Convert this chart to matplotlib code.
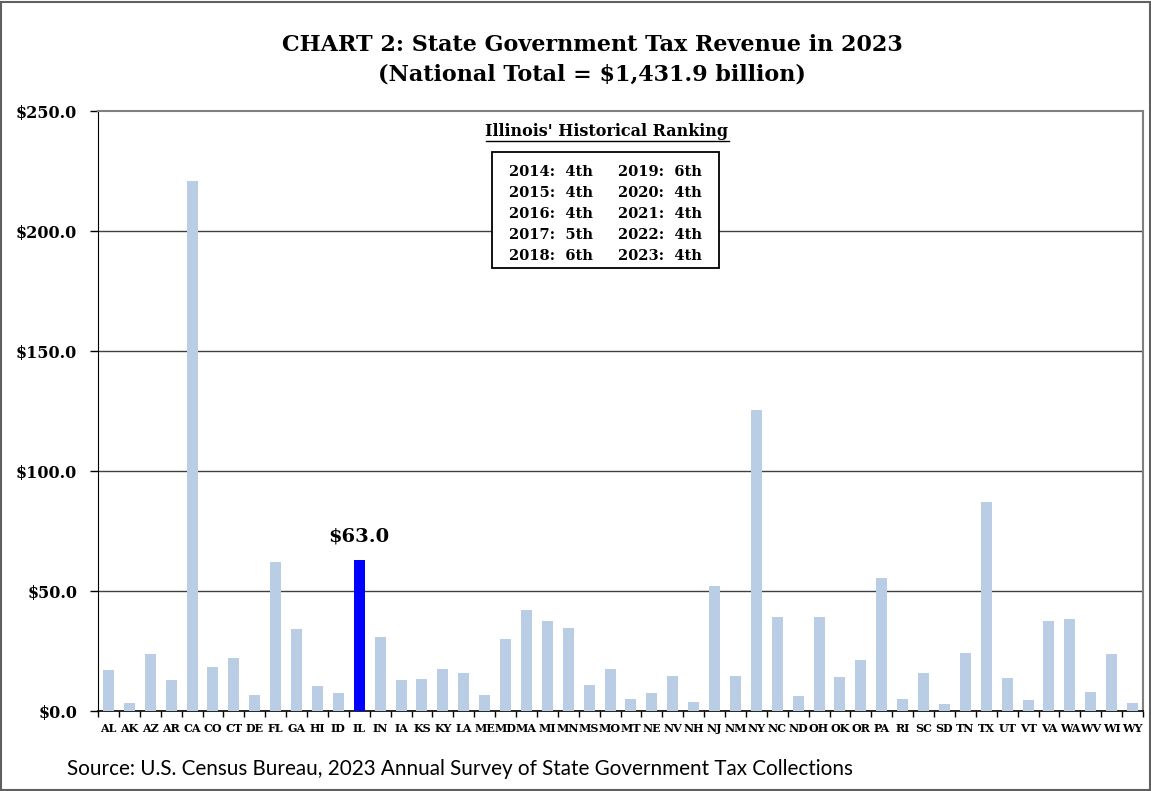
import matplotlib
matplotlib.use("Agg")
import matplotlib.pyplot as plt
from matplotlib.patches import Rectangle
from matplotlib.lines import Line2D

states = ["AL","AK","AZ","AR","CA","CO","CT","DE","FL","GA","HI","ID","IL","IN","IA","KS","KY",
          "LA","ME","MD","MA","MI","MN","MS","MO","MT","NE","NV","NH","NJ","NM","NY","NC","ND",
          "OH","OK","OR","PA","RI","SC","SD","TN","TX","UT","VT","VA","WA","WV","WI","WY"]
revenue = [17.0, 3.4, 23.6, 12.9, 220.8, 18.3, 22.2, 6.7, 62.1, 34.0, 10.4, 7.7, 63.0, 30.7, 13.1, 13.2, 17.4,
           15.7, 6.7, 30.0, 41.9, 37.5, 34.7, 10.7, 17.6, 5.0, 7.5, 14.4, 3.7, 51.9, 14.6, 125.4, 39.2, 6.3,
           39.0, 14.2, 21.1, 55.4, 5.0, 15.8, 2.9, 24.0, 87.1, 13.8, 4.6, 37.4, 38.3, 7.8, 23.9, 3.5]
highlight = "IL"
yticks = [0, 50, 100, 150, 200, 250]
rank_left = ["2014:  4th", "2015:  4th", "2016:  4th", "2017:  5th", "2018:  6th"]
rank_right = ["2019:  6th", "2020:  4th", "2021:  4th", "2022:  4th", "2023:  4th"]

serif = ["DejaVu Serif"]
fig = plt.figure(figsize=(11.51, 7.91), dpi=100)
ax = fig.add_axes([98/1151, 1-711/791, (1143-98)/1151, 600/791])

x = list(range(len(states)))
colors = ["#0000FF" if s == highlight else "#B9CDE5" for s in states]
ax.bar(x, revenue, width=0.53, color=colors, zorder=3)

ax.set_xlim(-0.5, len(states)-0.5)
ax.set_ylim(0, 250)
ax.set_yticks(yticks)
ax.set_yticklabels([f"${v:.1f}" for v in yticks], fontfamily=serif, fontweight="bold", fontsize=11.5)
ax.set_xticks(x)
ax.set_xticklabels(states, fontfamily=serif, fontweight="bold", fontsize=8)
ax.set_xticks([i - 0.5 for i in range(len(states)+1)], minor=True)
ax.tick_params(axis="x", which="major", length=0, pad=9)
ax.tick_params(axis="x", which="minor", length=4, width=1, color="black", direction="out")
ax.tick_params(axis="y", length=6, width=1, direction="out", pad=9)
for v in yticks[1:-1]:
    ax.axhline(v, color="#404040", lw=1, zorder=1)
ax.spines["left"].set_color("black")
ax.spines["bottom"].set_color("black")
ax.spines["bottom"].set_linewidth(1.2)
ax.spines["top"].set_color("#808080")
ax.spines["top"].set_linewidth(1.5)
ax.spines["right"].set_color("#808080")
ax.spines["right"].set_linewidth(1.5)

hi = states.index(highlight)
ax.text(hi, revenue[hi] + 6, f"${revenue[hi]:.1f}", ha="center", va="bottom",
        fontfamily=serif, fontweight="bold", fontsize=14)

fig.text(592/1151, 1-45/791, "CHART 2: State Government Tax Revenue in 2023", ha="center", va="center",
         fontfamily=serif, fontweight="bold", fontsize=16)
fig.text(592/1151, 1-75/791, "(National Total = $1,431.9 billion)", ha="center", va="center",
         fontfamily=serif, fontweight="bold", fontsize=16)

# ranking box
fig.text(607/1151, 1-131/791, "Illinois' Historical Ranking", ha="center", va="center",
         fontfamily=serif, fontweight="bold", fontsize=11.5)
fig.add_artist(Line2D([486/1151, 729/1151], [1-141/791, 1-141/791], color="black", lw=1))
box = Rectangle((492/1151, 1-268/791), (719-492)/1151, (268-152)/791, transform=fig.transFigure,
                fill=True, facecolor="white", edgecolor="black", lw=1.3, zorder=5)
fig.add_artist(box)
for i, (l, r) in enumerate(zip(rank_left, rank_right)):
    yy = 1 - (172 + i*21)/791
    fig.text(509/1151, yy, l, ha="left", va="center", fontfamily=serif, fontweight="bold", fontsize=10.5, zorder=6)
    fig.text(618/1151, yy, r, ha="left", va="center", fontfamily=serif, fontweight="bold", fontsize=10.5, zorder=6)

fig.text(67/1151, 1-769/791, "Source: U.S. Census Bureau, 2023 Annual Survey of State Government Tax Collections",
         ha="left", va="center", fontfamily=["Lato", "DejaVu Sans"], fontsize=14.9)

fig.add_artist(Rectangle((0.001, 0.001), 0.998, 0.996, transform=fig.transFigure, fill=False,
                         edgecolor="#606060", lw=1.5))
fig.savefig("out.png", dpi=100)
